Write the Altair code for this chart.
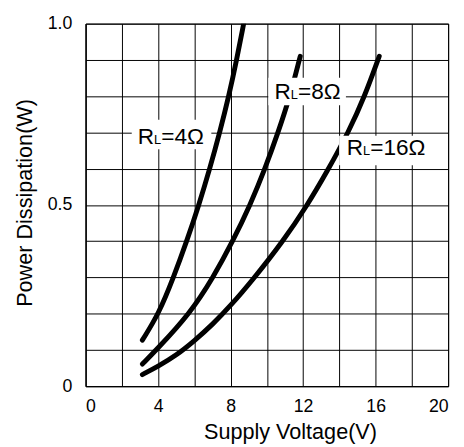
import altair as alt
import pandas as pd

# Curve data (Supply Voltage V, Power Dissipation W)
v_4 = [3.13, 4.04, 4.85, 5.58, 6.25, 6.85, 7.4, 7.9, 8.33, 8.72]
p_4 = [0.127, 0.2, 0.3, 0.4, 0.5, 0.6, 0.7, 0.8, 0.9, 1.0]

v_8 = [3.13, 3.9, 5.75, 7.04, 8.12, 9.08, 9.9, 10.62, 11.28, 11.84]
p_8 = [0.061, 0.1, 0.2, 0.3, 0.4, 0.5, 0.6, 0.7, 0.8, 0.91]

v_16 = [3.13, 4.0, 5.0, 6.0, 7.0, 8.0, 9.17, 10.9, 12.24, 13.3, 14.5, 15.4, 16.2]
p_16 = [0.032, 0.055, 0.085, 0.125, 0.17, 0.222, 0.29, 0.4, 0.5, 0.59, 0.7, 0.8, 0.91]

# Annotation labels (data units)
label_rest = ["=4Ω", "=8Ω", "=16Ω"]
label_x = [2.87, 10.42, 14.4]
label_y = [0.669, 0.792, 0.639]
box_x = [4.74, 12.22, 16.48]
box_y = [0.694, 0.813, 0.650]
box_w = [81, 79, 92]
box_h = [30, 28, 30]

x_ticks = list(range(0, 21, 2))
y_ticks = [round(i * 0.1, 1) for i in range(11)]

FONT = "Liberation Sans"

rows = []
for name, vs, ps in [("4", v_4, p_4), ("8", v_8, p_8), ("16", v_16, p_16)]:
    for i, (v, p) in enumerate(zip(vs, ps)):
        rows.append({"series": name, "V": v, "P": p, "order": i})
curves = pd.DataFrame(rows)

labels = pd.DataFrame({"rest": label_rest, "lx": label_x, "ly": label_y,
                       "bx": box_x, "by": box_y})

xscale = alt.Scale(domain=[0, 20], nice=False, zero=False)
yscale = alt.Scale(domain=[0, 1], nice=False, zero=False)

xaxis = alt.Axis(values=x_ticks, grid=True, gridColor="black", gridOpacity=1, gridWidth=1,
                 ticks=False, domainColor="black", domainWidth=1, labelOverlap=False,
                 labelExpr="datum.value % 4 == 0 ? datum.label : ''",
                 labelFont=FONT, labelFontSize=18, labelColor="black", labelPadding=12,
                 title="Supply Voltage(V)", titleFont=FONT, titleFontSize=22,
                 titleFontWeight="normal", titleColor="black",
                 titleX=208, titleY=53, titleAlign="center", titleBaseline="alphabetic")
yaxis = alt.Axis(values=y_ticks, grid=True, gridColor="black", gridOpacity=1, gridWidth=1,
                 ticks=False, domainColor="black", domainWidth=1, labelOverlap=False,
                 labelExpr="datum.value == 0 ? '0' : (datum.value == 0.5 ? '0.5' : (datum.value == 1 ? '1.0' : ''))",
                 labelFont=FONT, labelFontSize=18, labelColor="black", labelPadding=14,
                 title="Power Dissipation(W)", titleFont=FONT, titleFontSize=22,
                 titleFontWeight="normal", titleColor="black",
                 titleX=-55, titleY=182, titleAngle=-90, titleAlign="center",
                 titleBaseline="alphabetic")


def xy(xf, yf):
    return dict(x=alt.X(xf, scale=xscale, axis=xaxis), y=alt.Y(yf, scale=yscale, axis=yaxis))


lines = alt.Chart(curves).mark_line(color="black", strokeWidth=5, strokeCap="round",
                                    interpolate="basis", clip=True).encode(
    detail="series:N",
    order="order:Q",
    **xy("V:Q", "P:Q"),
)

layers = [lines]
for i in range(3):
    one = labels.iloc[[i]]
    layers.append(alt.Chart(one).mark_rect(color="white", width=box_w[i], height=box_h[i]).encode(
        **xy("bx:Q", "by:Q")))

base_t = alt.Chart(labels)
t_r = base_t.mark_text(text="R", font=FONT, fontSize=23, align="left", baseline="alphabetic",
                       color="black").encode(**xy("lx:Q", "ly:Q"))
t_l = base_t.mark_text(text="L", font=FONT, fontSize=13, align="left", baseline="alphabetic",
                       dx=16.6, color="black").encode(**xy("lx:Q", "ly:Q"))
t_rest = base_t.mark_text(font=FONT, fontSize=23, align="left", baseline="alphabetic",
                          dx=24, color="black").encode(text="rest:N", **xy("lx:Q", "ly:Q"))
layers += [t_r, t_l, t_rest]

chart = alt.layer(*layers).properties(
    width=369, height=369,
    autosize=alt.AutoSizeParams(type="none"),
    padding={"left": 79, "top": 12, "right": 8, "bottom": 58},
    background="white",
).configure_view(stroke="black", strokeWidth=1)

chart.save("out.html", embed_options={"renderer": "svg", "actions": False})
